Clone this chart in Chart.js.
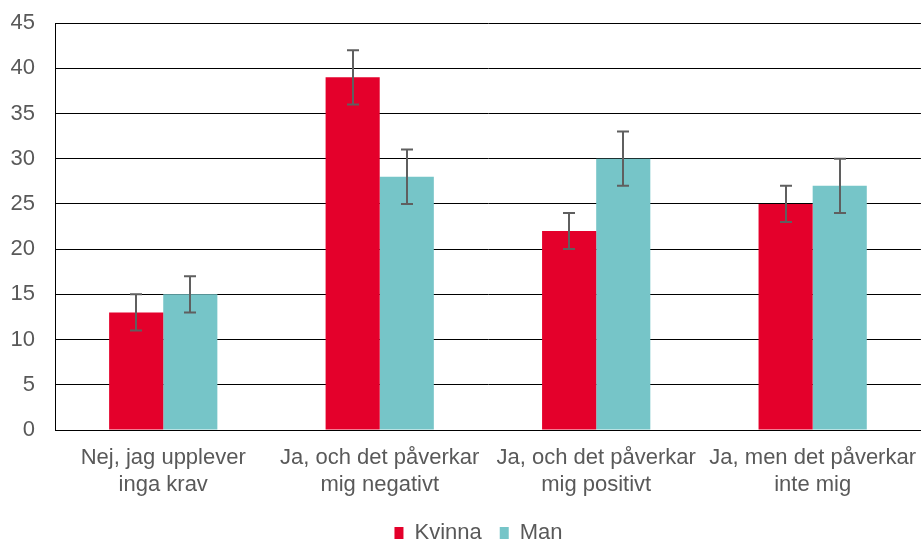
<!DOCTYPE html>
<html>
<head>
<meta charset="utf-8">
<script src="https://cdn.jsdelivr.net/npm/chart.js@4.4.1/dist/chart.umd.min.js"></script>
<style>
  body { margin: 0; background: #fff; }
  #wrap { width: 923px; height: 543px; }
</style>
</head>
<body>
<div id="wrap"><canvas id="chartBar" width="923" height="543"></canvas></div>
<script>
const categories = [
  ['Nej, jag upplever', 'inga krav'],
  ['Ja, och det påverkar', 'mig negativt'],
  ['Ja, och det påverkar', 'mig positivt'],
  ['Ja, men det påverkar', 'inte mig']
];
const kvinna = [13, 39, 22, 25];
const kvinnaLow = [11, 36, 20, 23];
const kvinnaHigh = [15, 42, 24, 27];
const man = [15, 28, 30, 27];
const manLow = [13, 25, 27, 24];
const manHigh = [17, 31, 33, 30];
const yTicks = [0, 5, 10, 15, 20, 25, 30, 35, 40, 45];

const errorRanges = [[kvinnaLow, kvinnaHigh], [manLow, manHigh]];

// draws the error bars on top of the bars
const errorBars = {
  id: 'errorBars',
  afterDatasetsDraw(chart) {
    const ctx = chart.ctx;
    const y = chart.scales.y;
    ctx.save();
    ctx.strokeStyle = '#5f5f5f';
    ctx.lineWidth = 2;
    chart.data.datasets.forEach((ds, i) => {
      const meta = chart.getDatasetMeta(i);
      meta.data.forEach((bar, j) => {
        const lo = y.getPixelForValue(errorRanges[i][0][j]);
        const hi = y.getPixelForValue(errorRanges[i][1][j]);
        const x = Math.round(bar.x);
        ctx.beginPath();
        ctx.moveTo(x, lo); ctx.lineTo(x, hi);
        ctx.moveTo(x - 6, lo); ctx.lineTo(x + 6, lo);
        ctx.moveTo(x - 6, hi); ctx.lineTo(x + 6, hi);
        ctx.stroke();
      });
    });
    ctx.restore();
  }
};

// legend sits a bit right of the canvas centre in the original
const legendShift = {
  id: 'legendShift',
  afterLayout(chart) {
    chart.legend.left += 17;
    chart.legend.right += 17;
  }
};

const font = { family: "'Liberation Sans', Arial, sans-serif", size: 22 };

new Chart(document.getElementById('chartBar'), {
  type: 'bar',
  data: {
    labels: categories,
    datasets: [
      { label: 'Kvinna', data: kvinna, backgroundColor: '#e4002b', barPercentage: 1, categoryPercentage: 0.5 },
      { label: 'Man', data: man, backgroundColor: '#76c5c8', barPercentage: 1, categoryPercentage: 0.5 }
    ]
  },
  options: {
    responsive: false,
    animation: false,
    layout: { padding: { top: 23, right: 0, left: 0, bottom: -11 } },
    plugins: {
      tooltip: { enabled: false },
      legend: {
        position: 'bottom',
        labels: {
          color: '#595959',
          font: font,
          boxWidth: 9,
          boxHeight: 12,
          padding: 18
        }
      }
    },
    scales: {
      x: {
        grid: { display: false },
        border: { color: '#000', width: 1 },
        ticks: { color: '#595959', font: font, maxRotation: 0, autoSkip: false, padding: 7 },
        afterFit(scale) { scale.height = 74; }
      },
      y: {
        min: 0,
        max: 45,
        afterBuildTicks(scale) { scale.ticks = yTicks.map(v => ({ value: v })); },
        grid: { color: '#000', lineWidth: 1, drawTicks: false },
        border: { color: '#000', width: 1 },
        ticks: { color: '#595959', font: font, padding: 20 },
        afterFit(scale) {
          scale.width = 55;
          scale.paddingTop = 0;
          scale.paddingBottom = 0;
        }
      }
    }
  },
  plugins: [errorBars, legendShift]
});
</script>
</body>
</html>
